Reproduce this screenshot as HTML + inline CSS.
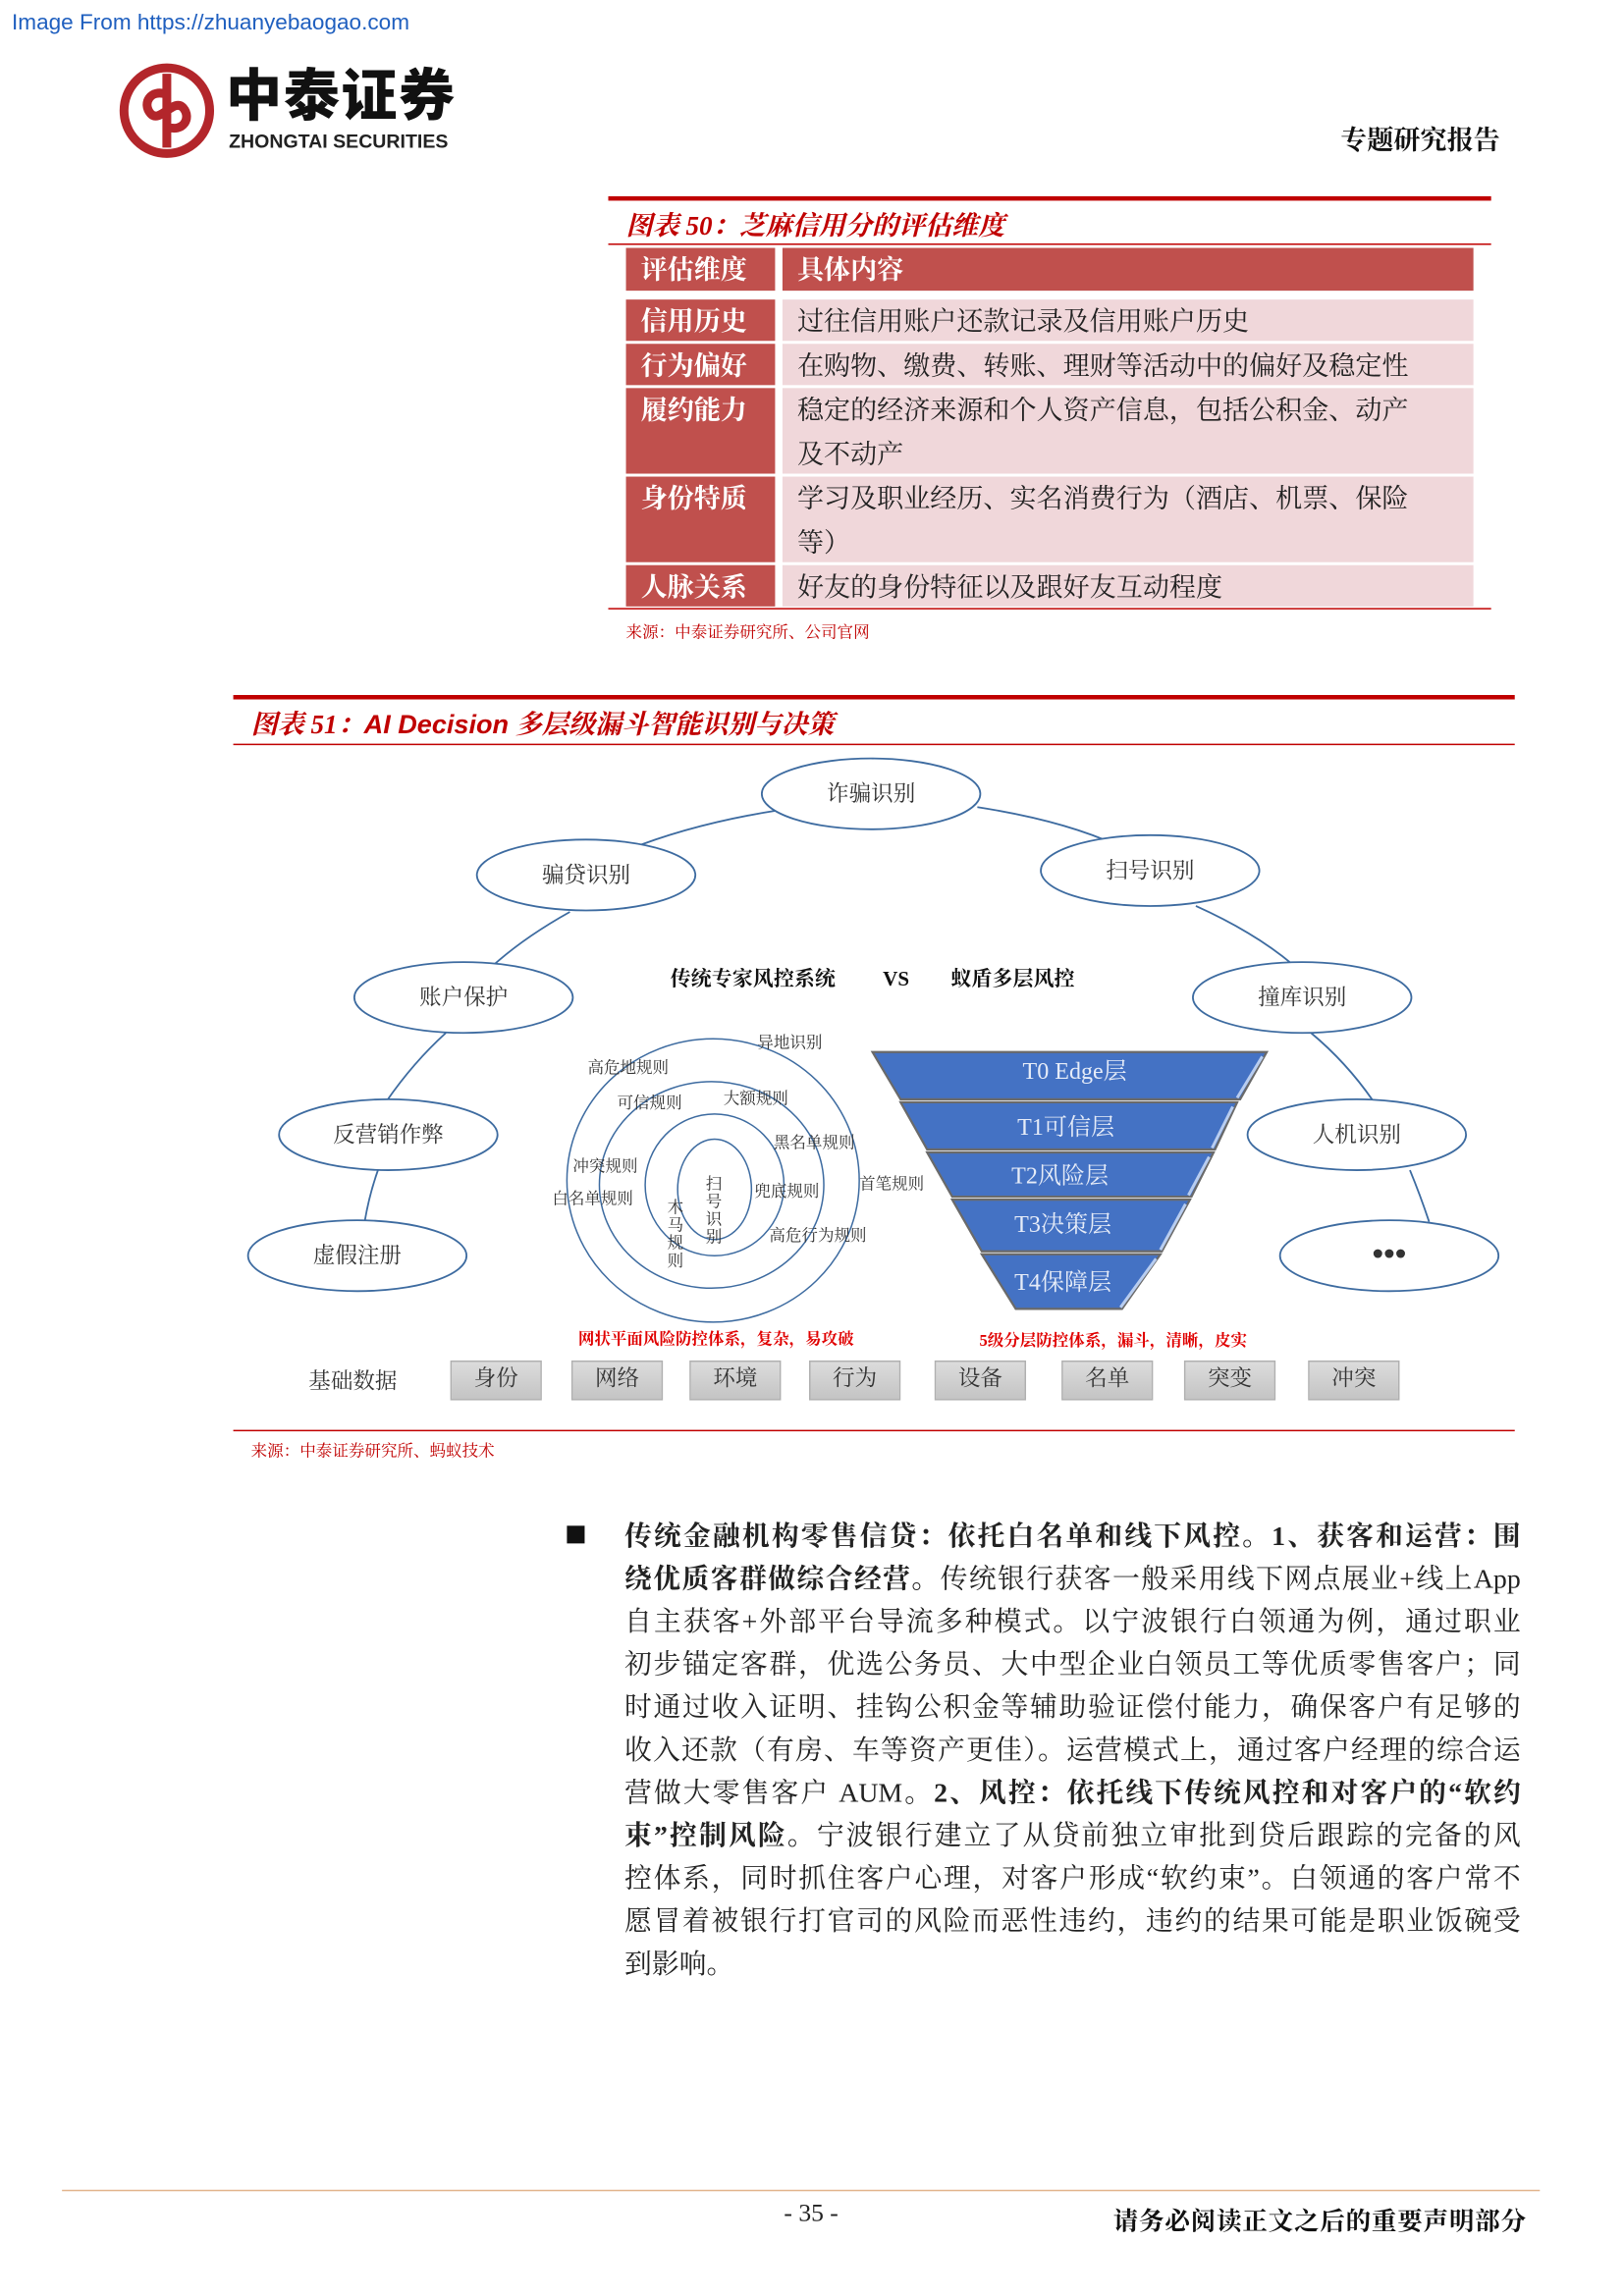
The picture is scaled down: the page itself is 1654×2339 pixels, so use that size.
<!DOCTYPE html>
<html><head><meta charset="utf-8"><style>
html,body{margin:0;padding:0;background:#fff;}
body{width:1654px;height:2339px;overflow:hidden;position:relative;}
#p{position:absolute;left:0;top:0;width:1100px;height:1556px;transform:scale(1.50364,1.50321);transform-origin:0 0;font-family:"Liberation Serif","Noto Serif CJK SC",serif;}
.a{position:absolute;white-space:nowrap;}
.cell{position:absolute;box-sizing:border-box;font-size:18px;line-height:30px;padding-left:10px;}
.l{background:#c0504d;color:#fff;font-weight:bold;}
.r{background:#f0d7da;color:#222;}
.red{color:#c00000;}
.box{position:absolute;top:922px;width:62px;height:27px;background:linear-gradient(#dcdcdc,#c4c4c4);border:1px solid #b0b0b0;box-sizing:border-box;text-align:center;font-size:15px;line-height:25px;color:#333;}
.bl{position:absolute;left:423px;width:607px;font-size:18.5px;line-height:29px;text-align:justify;text-align-last:justify;color:#222;white-space:nowrap;}
</style></head><body><div id="p">
<div class="a" style="left:8px;top:7px;font-family:'Liberation Sans',sans-serif;font-size:15px;color:#1f5fbf;">Image From https://zhuanyebaogao.com</div>
<svg class="a" style="left:80px;top:42px" width="66" height="66" viewBox="0 0 66 66">
<circle cx="33" cy="33" r="29" fill="none" stroke="#b3262b" stroke-width="6"/>
<path d="M33 8 V58 M33 22 C22 18 16 28 22 35 C28 42 38 24 44 31 C50 38 44 48 33 44" fill="none" stroke="#b3262b" stroke-width="6"/>
</svg>
<div class="a" style="left:153px;top:44px;font-family:'Liberation Sans','Noto Sans CJK SC',sans-serif;font-weight:900;font-size:38px;line-height:44px;color:#111;letter-spacing:1px;">中泰证券</div>
<div class="a" style="left:155px;top:88px;font-family:'Liberation Sans',sans-serif;font-weight:bold;font-size:13px;color:#222;">ZHONGTAI SECURITIES</div>
<div class="a" style="left:908px;top:81px;font-size:18px;font-weight:bold;color:#111;">专题研究报告</div>

<div class="a" style="left:412px;top:133px;width:598px;height:3px;background:#c00000"></div>
<div class="a red" style="left:424px;top:139px;font-size:18px;font-weight:bold;font-style:italic;">图表 50：芝麻信用分的评估维度</div>
<div class="a" style="left:412px;top:165px;width:598px;height:1px;background:#c00000"></div>
<div class="cell l" style="left:424px;top:168px;width:101px;height:29px;">评估维度</div>
<div class="cell l" style="left:530px;top:168px;width:468px;height:29px;">具体内容</div>
<div class="cell l" style="left:424px;top:203px;width:101px;height:28px;">信用历史</div>
<div class="cell r" style="left:530px;top:203px;width:468px;height:28px;">过往信用账户还款记录及信用账户历史</div>
<div class="cell l" style="left:424px;top:233px;width:101px;height:28px;">行为偏好</div>
<div class="cell r" style="left:530px;top:233px;width:468px;height:28px;">在购物、缴费、转账、理财等活动中的偏好及稳定性</div>
<div class="cell l" style="left:424px;top:263px;width:101px;height:58px;">履约能力</div>
<div class="cell r" style="left:530px;top:263px;width:468px;height:58px;">稳定的经济来源和个人资产信息，包括公积金、动产<br>及不动产</div>
<div class="cell l" style="left:424px;top:323px;width:101px;height:58px;">身份特质</div>
<div class="cell r" style="left:530px;top:323px;width:468px;height:58px;">学习及职业经历、实名消费行为（酒店、机票、保险<br>等）</div>
<div class="cell l" style="left:424px;top:383px;width:101px;height:28px;">人脉关系</div>
<div class="cell r" style="left:530px;top:383px;width:468px;height:28px;">好友的身份特征以及跟好友互动程度</div>
<div class="a" style="left:412px;top:412px;width:598px;height:1px;background:#c00000"></div>
<div class="a red" style="left:424px;top:420px;font-size:11px;">来源：中泰证券研究所、公司官网</div>

<div class="a" style="left:158px;top:471px;width:868px;height:3px;background:#c00000"></div>
<div class="a red" style="left:170px;top:477px;font-size:18px;font-weight:bold;font-style:italic;">图表 51：<span style="font-family:'Liberation Sans',sans-serif">AI Decision</span> 多层级漏斗智能识别与决策</div>
<div class="a" style="left:158px;top:504px;width:868px;height:1px;background:#c00000"></div>

<svg class="a" style="left:0;top:0" width="1100" height="1000">
<g fill="none" stroke="#3d6ba0" stroke-width="1.2">
<path d="M528 549 Q470 558 425 576"/><path d="M662 547 Q720 556 757 573"/>
<path d="M386 618 Q352 637 330 658"/><path d="M810 614 Q850 632 876 654"/>
<path d="M302 700 Q280 720 262 746"/><path d="M888 700 Q912 720 930 746"/>
<path d="M256 793 Q250 810 247 828"/><path d="M955 793 Q962 810 968 828"/>
</g>
<g fill="#fff" stroke="#3d6ba0" stroke-width="1.2">
<ellipse cx="590" cy="538" rx="74" ry="24"/><ellipse cx="397" cy="593" rx="74" ry="24"/>
<ellipse cx="779" cy="590" rx="74" ry="24"/><ellipse cx="314" cy="676" rx="74" ry="24"/>
<ellipse cx="882" cy="676" rx="74" ry="24"/><ellipse cx="263" cy="769" rx="74" ry="24"/>
<ellipse cx="919" cy="769" rx="74" ry="24"/><ellipse cx="242" cy="851" rx="74" ry="24"/>
<ellipse cx="941" cy="851" rx="74" ry="24"/>
</g>
<g font-size="15" fill="#333" text-anchor="middle" font-family="Liberation Serif,Noto Serif CJK SC,serif">
<text x="590" y="543">诈骗识别</text><text x="397" y="598">骗贷识别</text><text x="779" y="595">扫号识别</text>
<text x="314" y="681">账户保护</text><text x="882" y="681">撞库识别</text><text x="263" y="774">反营销作弊</text>
<text x="919" y="774">人机识别</text><text x="242" y="856">虚假注册</text>
<text x="941" y="857" font-size="22" font-weight="bold">•••</text>
</g>
<g font-size="14" font-weight="bold" fill="#111" font-family="Liberation Serif,Noto Serif CJK SC,serif">
<text x="454" y="668">传统专家风控系统</text><text x="598" y="668">VS</text><text x="644" y="668">蚁盾多层风控</text>
</g>
<g fill="none" stroke="#3d6ba0" stroke-width="1">
<ellipse cx="483" cy="800" rx="99" ry="96"/><ellipse cx="482" cy="803" rx="76" ry="70"/>
<ellipse cx="484" cy="803" rx="47" ry="48"/><ellipse cx="484" cy="806" rx="25" ry="34"/>
</g>
<g font-size="11" fill="#333" font-family="Liberation Serif,Noto Serif CJK SC,serif">
<text x="513" y="710">异地识别</text><text x="398" y="727">高危地规则</text><text x="418" y="751">可信规则</text>
<text x="490" y="748">大额规则</text><text x="524" y="778">黑名单规则</text><text x="388" y="794">冲突规则</text>
<text x="582" y="806">首笔规则</text><text x="374" y="816">白名单规则</text><text x="511" y="811">兜底规则</text>
<text x="521" y="841">高危行为规则</text>
<text x="478" y="806">扫</text><text x="478" y="818">号</text><text x="478" y="830">识</text><text x="478" y="842">别</text>
<text x="452" y="822">木</text><text x="452" y="834">马</text><text x="452" y="846">规</text><text x="452" y="858">则</text>
</g>
<g stroke="#6a6a6a" stroke-width="1.5">
<polygon points="591,713 858,713 840,745 610,745" fill="#4472c4"/>
<polygon points="610,747 838,747 823,779 628,779" fill="#4472c4"/>
<polygon points="628,781 822,781 807,811 645,811" fill="#4472c4"/>
<polygon points="645,813 806,813 787,848 665,848" fill="#4472c4"/>
<polygon points="665,850 786,850 760,887 688,887" fill="#4472c4"/>
</g>
<g stroke="#b8cdf0" stroke-width="2" fill="none">
<path d="M855 716 L838 744"/><path d="M835 750 L821 778"/><path d="M819 784 L805 810"/><path d="M803 816 L786 847"/><path d="M783 853 L759 886"/>
</g>
<g font-size="16" fill="#e6ecf8" text-anchor="middle" font-family="Liberation Serif,Noto Serif CJK SC,serif">
<text x="728" y="731">T0 Edge层</text><text x="722" y="769">T1可信层</text><text x="718" y="802">T2风险层</text>
<text x="720" y="835">T3决策层</text><text x="720" y="874">T4保障层</text>
</g>
<g font-size="11" font-weight="bold" fill="#e00000" text-anchor="middle" font-family="Liberation Serif,Noto Serif CJK SC,serif">
<text x="485" y="911">网状平面风险防控体系，复杂，易攻破</text><text x="754" y="912">5级分层防控体系，漏斗，清晰，皮实</text>
</g>
</svg>
<div class="a" style="left:209px;top:925px;font-size:15px;color:#333;">基础数据</div>
<div class="box" style="left:305px">身份</div><div class="box" style="left:387px">网络</div>
<div class="box" style="left:467px">环境</div><div class="box" style="left:548px">行为</div>
<div class="box" style="left:633px">设备</div><div class="box" style="left:719px">名单</div>
<div class="box" style="left:802px">突变</div><div class="box" style="left:886px">冲突</div>
<div class="a" style="left:158px;top:969px;width:868px;height:1px;background:#c00000"></div>
<div class="a red" style="left:170px;top:975px;font-size:11px;">来源：中泰证券研究所、蚂蚁技术</div>

<div class="a" style="left:384px;top:1034px;width:12px;height:12px;background:#111"></div>
<div class="bl" style="top:1028px;font-weight:bold;">传统金融机构零售信贷：依托白名单和线下风控。1、获客和运营：围</div>
<div class="bl" style="top:1057px;"><b>绕优质客群做综合经营。</b>传统银行获客一般采用线下网点展业+线上App</div>
<div class="bl" style="top:1086px;">自主获客+外部平台导流多种模式。以宁波银行白领通为例，通过职业</div>
<div class="bl" style="top:1115px;">初步锚定客群，优选公务员、大中型企业白领员工等优质零售客户；同</div>
<div class="bl" style="top:1144px;">时通过收入证明、挂钩公积金等辅助验证偿付能力，确保客户有足够的</div>
<div class="bl" style="top:1173px;">收入还款（有房、车等资产更佳）。运营模式上，通过客户经理的综合运</div>
<div class="bl" style="top:1202px;">营做大零售客户 AUM。<b>2、风控：依托线下传统风控和对客户的“软约</b></div>
<div class="bl" style="top:1231px;"><b>束”控制风险。</b>宁波银行建立了从贷前独立审批到贷后跟踪的完备的风</div>
<div class="bl" style="top:1260px;">控体系，同时抓住客户心理，对客户形成“软约束”。白领通的客户常不</div>
<div class="bl" style="top:1289px;">愿冒着被银行打官司的风险而恶性违约，违约的结果可能是职业饭碗受</div>
<div class="bl" style="top:1318px;text-align-last:left;">到影响。</div>

<div class="a" style="left:42px;top:1484px;width:1001px;height:1px;background:#e2b48c"></div>
<div class="a" style="left:531px;top:1490px;font-size:17px;color:#222;">- 35 -</div>
<div class="a" style="right:66px;top:1491px;font-size:17px;font-weight:bold;color:#111;letter-spacing:0.5px;">请务必阅读正文之后的重要声明部分</div>
</div></body></html>
